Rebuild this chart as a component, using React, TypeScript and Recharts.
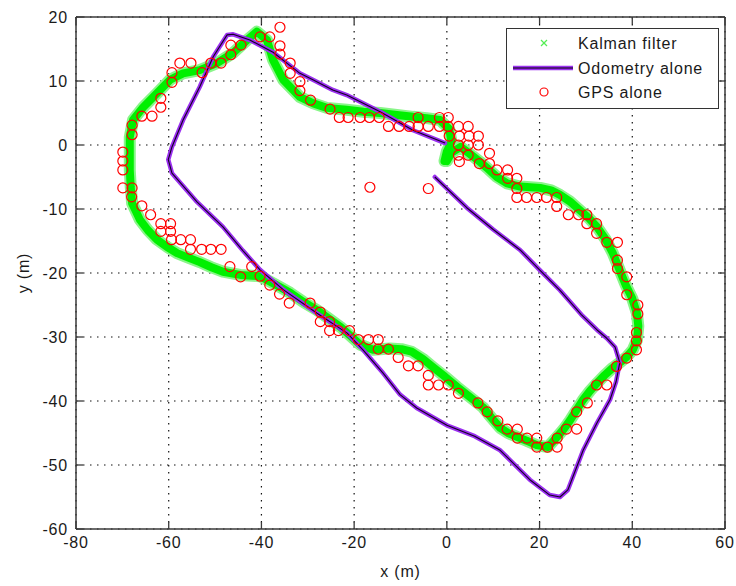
import React from 'react';
import {
  ComposedChart,
  Scatter,
  XAxis,
  YAxis,
  CartesianGrid,
  ReferenceLine,
  Legend,
} from 'recharts';

// axis ticks and legend names
const xTicks = [-80, -60, -40, -20, 0, 20, 40, 60];
const yTicks = [-60, -50, -40, -30, -20, -10, 0, 10, 20];
const seriesNames = ['Kalman filter', 'Odometry alone', 'GPS alone'];

// Kalman filter estimate as [x, y] in metres
const kalmanPath = [
  [0, -2.5], [1, -1.2], [3, -0.3], [5, -1.4], [7.1, -2.6], [9, -3.8], [10.8, -5],
  [13, -6], [15.8, -6.5], [18, -6.6], [20.1, -6.7], [22.5, -7.1], [24.4, -7.8],
  [26.5, -8.8], [28.7, -10.2], [30.6, -11.4], [32.4, -12.8], [34.2, -14.7],
  [35.8, -16.9], [37.2, -19.4], [38.6, -21.9], [40, -24], [41, -26.3], [41.3, -28.3],
  [41, -30.5], [40.1, -32], [38.8, -33.1], [37.3, -34], [35.8, -34.8], [34, -36],
  [32.4, -37.2], [30.9, -38.4], [29.4, -39.8], [28, -41.4], [26.6, -43], [25.2, -44.4],
  [23.8, -45.6], [21.8, -47.2], [19.4, -46.9], [17.2, -46.2], [15.1, -45.6],
  [13.2, -45], [11.5, -44.2], [9.6, -42.6], [7.8, -41], [5, -39.4], [2.2, -37.8],
  [-0.4, -36.2], [-3, -34.7], [-5.2, -33.4], [-7.6, -32.3], [-9.8, -31.9],
  [-12.3, -31.8], [-15.9, -32], [-18.7, -31.2], [-20.8, -29.8], [-23, -28.4],
  [-25.5, -27.1], [-28, -25.8], [-31, -24.5], [-33.8, -23.1], [-37, -21.8],
  [-40.3, -20.5], [-44.6, -20.3], [-48.3, -19.8], [-50.8, -19.1], [-53.3, -18.3],
  [-55.8, -17.6], [-58.2, -16.9], [-60.4, -15.9], [-62.5, -14.8], [-64.5, -13.3],
  [-66.2, -11.7], [-67.9, -9.1], [-68.2, -6.5], [-68.4, -3.9], [-68.4, -1.3],
  [-68.4, 1.2], [-67.7, 3.9], [-65.5, 5.9], [-62.5, 8.1], [-59.7, 10.2], [-56.9, 11.2],
  [-53.3, 11.7], [-49.6, 12.8], [-46.1, 14.4], [-43.1, 16.4], [-41, 17.7],
  [-38.8, 16.4], [-37.5, 13.3], [-35.3, 10.2], [-31.7, 7.5], [-28.8, 6.5],
  [-25.9, 5.8], [-21.6, 5.5], [-18, 5.2], [-14.4, 5], [-10.8, 4.7], [-7.3, 4.4],
  [-4.4, 4.2], [-1.5, 3.9], [0.5, 2.5], [1, 0.5], [0, -1], [-0.5, -2.5],
];

// dead reckoning track
const odometryPath = [
  [-2.6, -5], [4.3, -9.8], [10, -13.2], [15.8, -16.4], [20, -19.5], [24.4, -22.7],
  [29, -26.5], [32.4, -28.9], [34.5, -30.2], [36.3, -31.6], [37.3, -34], [36.5, -37],
  [35.2, -39.8], [32.4, -43.4], [29.4, -47.7], [26.1, -53.9], [24.4, -55],
  [22.2, -54.7], [17.9, -52.3], [11.5, -47.7], [6, -45.5], [0, -43.8], [-6.5, -41.1],
  [-10.1, -39], [-13.8, -35.6], [-18.1, -32], [-21.5, -29.4], [-28, -26.3],
  [-35.3, -22.6], [-40.3, -19.5], [-44, -16.5], [-48.3, -12.8], [-53.9, -8.9],
  [-59.3, -4.4], [-60.1, -2.3], [-59.3, -0.3], [-56.9, 3.9], [-53.3, 9.1],
  [-50.4, 13.8], [-47.4, 17.2], [-46.1, 17.3], [-42.5, 16.4], [-37.5, 14.5],
  [-31.7, 11.2], [-28.9, 10.2], [-24.6, 8.6], [-21.6, 7.8], [-14.4, 5.2],
  [-7.3, 2.3], [-0.4, 0.3],
];

// raw GPS fixes
const gpsFixes = [
  [-67.9, 3.1], [-67.9, 1.6], [-69.9, -1.1], [-69.9, -2.5], [-69.9, -3.9], [-69.9, -6.7],
  [-67.9, -6.7], [-68, -8.1], [-65.8, 4.5], [-63.6, 4.5], [-61.7, 5.9], [-61.7, 7.3],
  [-59.3, 9.8], [-59.3, 11.3], [-57.6, 12.8], [-55.2, 12.8], [-52.8, 11.3],
  [-50.9, 12.8], [-48.7, 12.8], [-46.6, 14.1], [-46.6, 15.6], [-44.4, 15.6],
  [-40.3, 16.9], [-38.2, 16.9], [-36, 18.4], [-36, 15.5], [-36, 14.2], [-33.8, 12.8],
  [-33.8, 11.2], [-31.7, 9.9], [-31.7, 8.5], [-29.4, 7], [-25.2, 5.6], [-23.2, 4.3],
  [-21.3, 4.3], [-18.7, 4.3], [-16.7, 4.3], [-14.6, 4.3], [-12.6, 2.9], [-10.3, 2.9],
  [-8.1, 2.9], [-6.2, 4.3], [-6.2, 2.9], [-4, 2.9], [-1.6, 4.3], [0.3, 4.3],
  [-1.6, 2.9], [0.3, 2.9], [2.5, 2.9], [4.6, 2.9], [0.5, 1.4], [2.7, 1.4], [4.8, 1.4],
  [6.8, 1.4], [2.5, 0], [4.6, 0], [6.8, 0], [2.5, -1.6], [4.6, -1.6], [2.7, -2.6],
  [9.2, -1.3], [7, -2.9], [9.2, -2.9], [10.8, -3.9], [13.1, -3.9], [13.1, -5.2],
  [15.1, -5.2], [15.1, -6.8], [15.1, -8.2], [17.2, -8.2], [19.4, -8.2], [21.5, -8.2],
  [23.7, -8.2], [23.7, -9.6], [26.2, -10.9], [28.4, -10.9], [30.2, -10.9],
  [30.2, -12.3], [32.3, -12.3], [32.3, -13.8], [34.5, -15.2], [36.8, -15.2],
  [36.8, -18], [36.8, -19.3], [38.8, -20.6], [38.8, -23.4], [41.2, -25], [41.2, -26.4],
  [40.9, -29.3], [40.9, -30.6], [40.9, -32], [38.8, -33.3], [36.6, -34.6],
  [34.5, -37.5], [32.3, -37.5], [30.3, -40.3], [28, -41.7], [28, -44.4], [25.8, -44.4],
  [23.8, -45.8], [23.8, -47.2], [21.7, -47.2], [19.4, -47.2], [19.4, -45.8],
  [17.3, -45.8], [15.2, -45.8], [15.2, -44.4], [13, -44.4], [11, -43.1], [8.7, -41.7],
  [6.7, -40.3], [2.5, -38.8], [0.3, -37.5], [-1.8, -37.5], [-4, -37.5], [-4, -36],
  [-6.2, -34.5], [-8.3, -34.5], [-10.5, -33.2], [-12.6, -31.9], [-14.8, -31.9],
  [-14.8, -30.4], [-16.9, -30.4], [-19.1, -30.4], [-21, -29], [-23.4, -29],
  [-25.3, -29], [-25.3, -27.6], [-27.3, -27.6], [-27.3, -26.1], [-29.5, -24.7],
  [-34, -24.7], [-36.1, -23.3], [-38.2, -21.9], [-40.3, -20.5], [-42.1, -19],
  [-44.5, -20.6], [-46.8, -19], [-48.7, -16.3], [-50.9, -16.3], [-52.9, -16.3],
  [-55.3, -16.3], [-55.3, -14.8], [-57.4, -14.8], [-59.4, -14.8], [-59.6, -13.5],
  [-61.7, -13.5], [-59.6, -12.3], [-61.7, -12.3], [-63.9, -10.9], [-65.8, -9.5],
  [-16.6, -6.6], [-4, -6.8],
];

const toPoints = (pts: number[][]) => pts.map(([x, y]) => ({ x, y }));

const W = 736;
const H = 586;
const MARGIN = { top: 17, right: 11, bottom: 7, left: 16 };
const Y_AXIS_W = 60;
const X_AXIS_H = 50;
const PLOT_TOP = MARGIN.top;
const PLOT_BOTTOM = H - MARGIN.bottom - X_AXIS_H;
const PLOT_LEFT = MARGIN.left + Y_AXIS_W;
const PLOT_RIGHT = W - MARGIN.right;
const TICK_LEN = 7;

const FONT = '"Liberation Sans", Arial, Helvetica, sans-serif';
const AXIS = '#3a3a3a';
const TEXT = '#1a1a1a';
const GREEN = '#00f000';
const GREEN_EDGE = '#8af58a';
const PURPLE = '#9b30f0';
const RED = '#ff0000';

const labelStyle = { fontFamily: FONT, fontSize: 16, fill: TEXT, letterSpacing: 0.8 };

const XTick = (props: any) => {
  const { x, y, payload } = props;
  return (
    <g>
      <line x1={x} x2={x} y1={PLOT_BOTTOM} y2={PLOT_BOTTOM - TICK_LEN} stroke={AXIS} strokeWidth={1.3} />
      <line x1={x} x2={x} y1={PLOT_TOP} y2={PLOT_TOP + TICK_LEN} stroke={AXIS} strokeWidth={1.3} />
      <text x={x} y={y} dy="0.71em" textAnchor="middle" style={labelStyle}>
        {payload.value}
      </text>
    </g>
  );
};

const YTick = (props: any) => {
  const { x, y, payload } = props;
  return (
    <g>
      <line x1={PLOT_LEFT} x2={PLOT_LEFT + TICK_LEN} y1={y} y2={y} stroke={AXIS} strokeWidth={1.3} />
      <line x1={PLOT_RIGHT} x2={PLOT_RIGHT - TICK_LEN} y1={y} y2={y} stroke={AXIS} strokeWidth={1.3} />
      <text x={x} y={y} dy="0.36em" textAnchor="end" style={labelStyle}>
        {payload.value}
      </text>
    </g>
  );
};

const GpsCircle = (props: any) => (
  <circle cx={props.cx} cy={props.cy} r={5} fill="none" stroke={RED} strokeWidth={1.2} />
);

const NoMark = () => <g />;

const LegendBox = () => {
  const rows = [14, 39, 63];
  return (
    <div
      style={{
        width: 213,
        height: 81,
        border: '1px solid #333',
        background: '#fff',
        boxSizing: 'border-box',
      }}
    >
      <svg width={211} height={79} style={{ display: 'block' }}>
        <g stroke="#55ee55" strokeWidth={1.3}>
          <line x1={34} y1={rows[0] - 3} x2={40} y2={rows[0] + 3} />
          <line x1={34} y1={rows[0] + 3} x2={40} y2={rows[0] - 3} />
        </g>
        <line x1={6} x2={66} y1={rows[1]} y2={rows[1]} stroke={PURPLE} strokeWidth={4.5} />
        <line x1={6} x2={66} y1={rows[1]} y2={rows[1]} stroke="#000" strokeWidth={1.1} />
        <circle cx={37} cy={rows[2]} r={4} fill="none" stroke={RED} strokeWidth={1.2} />
        {seriesNames.map((name, i) => (
          <text key={name} x={71} y={rows[i]} dy="0.36em" style={labelStyle}>
            {name}
          </text>
        ))}
      </svg>
    </div>
  );
};

export default function App() {
  return (
    <div style={{ position: 'absolute', left: 0, top: 0, width: W, height: H, background: '#fff' }}>
      <ComposedChart width={W} height={H} margin={MARGIN}>
        <CartesianGrid stroke="#111" strokeWidth={1.2} strokeDasharray="1.5 5.5" />
        <XAxis
          type="number"
          dataKey="x"
          domain={[-80, 60]}
          ticks={xTicks}
          allowDataOverflow
          height={X_AXIS_H}
          stroke={AXIS}
          strokeWidth={1.5}
          tickLine={false}
          tick={<XTick />}
          label={{ value: 'x (m)', position: 'insideBottom', offset: 2, style: labelStyle }}
        />
        <YAxis
          type="number"
          dataKey="y"
          domain={[-60, 20]}
          ticks={yTicks}
          allowDataOverflow
          width={Y_AXIS_W}
          stroke={AXIS}
          strokeWidth={1.5}
          tickLine={false}
          tick={<YTick />}
          label={{
            value: 'y (m)',
            angle: -90,
            position: 'insideLeft',
            offset: 7,
            style: { ...labelStyle, textAnchor: 'middle' },
          }}
        />
        <ReferenceLine y={20} stroke={AXIS} strokeWidth={1.5} />
        <ReferenceLine x={60} stroke={AXIS} strokeWidth={1.5} />

        <Scatter
          name="kalman-edge"
          legendType="none"
          data={toPoints(kalmanPath)}
          shape={<NoMark />}
          line={{ stroke: GREEN_EDGE, strokeWidth: 12, strokeLinejoin: 'round', strokeLinecap: 'round' }}
          isAnimationActive={false}
        />
        <Scatter
          name={seriesNames[0]}
          data={toPoints(kalmanPath)}
          shape={<NoMark />}
          line={{ stroke: GREEN, strokeWidth: 8, strokeLinejoin: 'round', strokeLinecap: 'round' }}
          isAnimationActive={false}
        />
        <Scatter
          name={seriesNames[1]}
          data={toPoints(odometryPath)}
          shape={<NoMark />}
          line={{ stroke: PURPLE, strokeWidth: 4.5, strokeLinejoin: 'round', strokeLinecap: 'round' }}
          isAnimationActive={false}
        />
        <Scatter
          name="odometry-core"
          legendType="none"
          data={toPoints(odometryPath)}
          shape={<NoMark />}
          line={{ stroke: '#120020', strokeWidth: 1.1, strokeLinejoin: 'round' }}
          isAnimationActive={false}
        />
        <Scatter
          name={seriesNames[2]}
          data={toPoints(gpsFixes)}
          shape={<GpsCircle />}
          isAnimationActive={false}
        />

        <Legend
          layout="vertical"
          align="center"
          verticalAlign="middle"
          content={() => <LegendBox />}
          wrapperStyle={{ position: 'absolute', top: 28, left: 506, width: 213, height: 81 }}
        />
      </ComposedChart>
    </div>
  );
}
